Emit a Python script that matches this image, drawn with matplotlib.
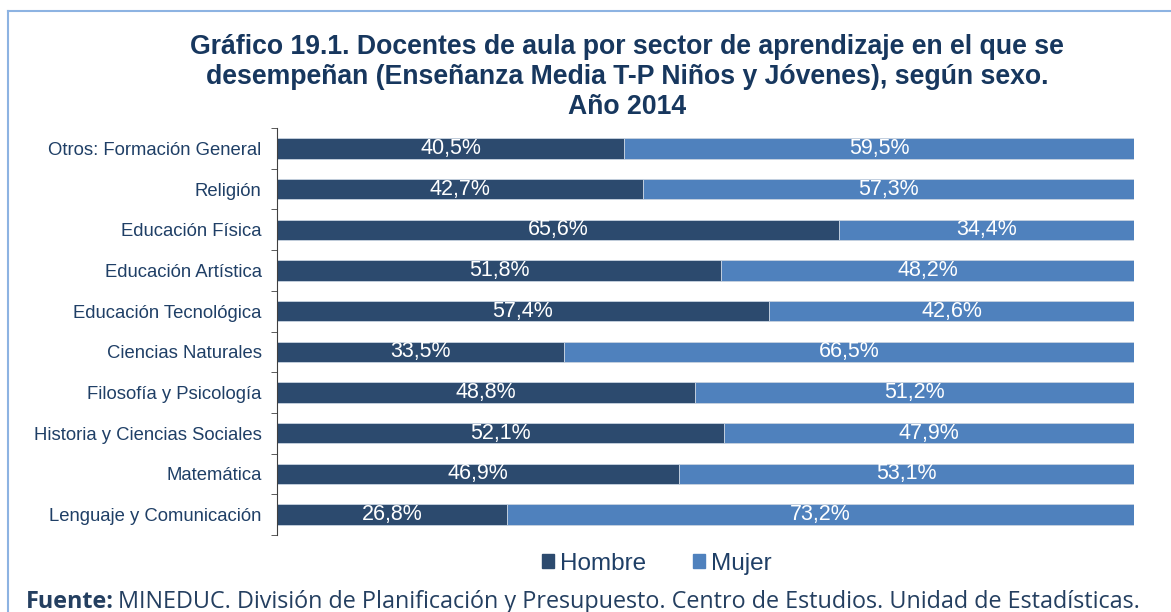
import matplotlib.pyplot as plt
from matplotlib.lines import Line2D
from matplotlib.patches import Patch

# Categories (top to bottom as shown)
sectores = ["Otros: Formación General", "Religión", "Educación Física",
            "Educación Artística", "Educación Tecnológica", "Ciencias Naturales",
            "Filosofía y Psicología", "Historia y Ciencias Sociales",
            "Matemática", "Lenguaje y Comunicación"]
hombre = [40.5, 42.7, 65.6, 51.8, 57.4, 33.5, 48.8, 52.1, 46.9, 26.8]
mujer = [59.5, 57.3, 34.4, 48.2, 42.6, 66.5, 51.2, 47.9, 53.1, 73.2]

col_h = "#2C4A6E"
col_m = "#4F81BD"
txt_col = "#1F3F66"

plt.rcParams['font.family'] = ['Liberation Sans', 'DejaVu Sans']

fig = plt.figure(figsize=(11.71, 6.12), dpi=100)
ax = fig.add_axes([0.2365, 0.1258, 0.732, 0.665])

y = list(range(len(sectores)))
ax.barh(y, hombre, height=0.5, color=col_h, edgecolor="#C8D3E0", linewidth=0.6)
ax.barh(y, mujer, left=hombre, height=0.5, color=col_m, edgecolor="#C8D3E0", linewidth=0.6)

for i in y:
    ax.text(hombre[i] / 2, i, f"{hombre[i]:.1f}%".replace(".", ","),
            ha="center", va="center", color="white", fontsize=15.5)
    ax.text(hombre[i] + mujer[i] / 2, i, f"{mujer[i]:.1f}%".replace(".", ","),
            ha="center", va="center", color="white", fontsize=15.5)

ax.set_xlim(0, 100)
ax.set_ylim(len(sectores) - 0.5, -0.5)
ax.set_yticks(y)
ax.set_yticklabels(sectores, fontsize=13.3, color=txt_col)
ax.set_yticks([i - 0.5 for i in range(len(sectores) + 1)], minor=True)
ax.tick_params(axis="y", which="major", length=0, pad=11)
ax.tick_params(axis="y", which="minor", length=4, direction="out", color="#404040")
ax.set_xticks([])
for s in ["top", "right", "bottom"]:
    ax.spines[s].set_visible(False)
ax.spines["left"].set_color("#404040")

fig.suptitle("Gráfico 19.1. Docentes de aula por sector de aprendizaje en el que se\n"
             "desempeñan (Enseñanza Media T-P Niños y Jóvenes), según sexo.\n"
             "Año 2014", x=0.5355, y=0.945, fontsize=19.2, fontweight="bold",
             color="#17375E", linespacing=1.2)

handles = [Patch(color=col_h, label="Hombre"), Patch(color=col_m, label="Mujer")]
leg = fig.legend(handles=handles, loc="center", bbox_to_anchor=(0.561, 0.079), ncol=2,
                 frameon=False, fontsize=17.5, handlelength=0.5, handleheight=0.5,
                 handletextpad=0.25, columnspacing=1.9)
for t in leg.get_texts():
    t.set_color(txt_col)

# frame around the chart area
fig.add_artist(Line2D([0.0068, 0.0068], [0.0, 0.982], color="#8DB3E2", lw=1.5))
fig.add_artist(Line2D([0.0068, 1.0], [0.982, 0.982], color="#8DB3E2", lw=1.5))

# source line: bold part then the rest right after it
fnt = ["Open Sans", "DejaVu Sans"]
t1 = fig.text(0.022, 0.006, "Fuente:", fontsize=16.8, fontweight="bold", color="#243F60", family=fnt)
fig.canvas.draw()
bb = t1.get_window_extent().transformed(fig.transFigure.inverted())
fig.text(bb.x1 + 0.004, 0.006,
         "MINEDUC. División de Planificación y Presupuesto. Centro de Estudios. Unidad de Estadísticas.",
         fontsize=16.8, color="#243F60", family=fnt)

fig.savefig("out.png", dpi=100)
